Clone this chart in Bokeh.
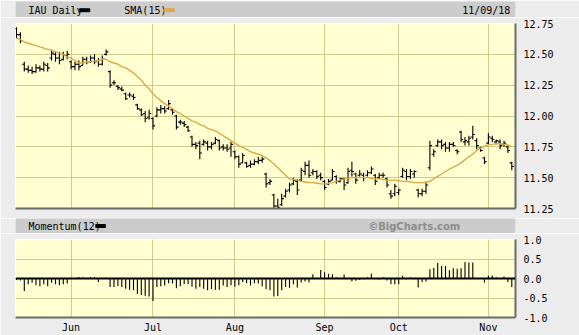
import pandas as pd
from bokeh.plotting import figure
from bokeh.layouts import column
from bokeh.models import Range1d, FixedTicker, PrintfTickFormatter, Span
from bokeh.embed import file_html
from bokeh.resources import INLINE
from bokeh.core.properties import value

# ---------------- data ----------------
holidays = ["2018-05-28", "2018-07-04", "2018-09-03"]
dates = [d for d in pd.bdate_range("2018-05-11", "2018-11-09") if d.strftime("%Y-%m-%d") not in holidays]

opens = [12.71, 12.66, 12.42, 12.38, 12.37, 12.36, 12.39, 12.38, 12.41, 12.47, 12.50, 12.47, 12.46, 12.49,
         12.44, 12.40, 12.42, 12.41, 12.46, 12.44, 12.47, 12.45, 12.42, 12.50, 12.36, 12.27, 12.24, 12.22,
         12.18, 12.17, 12.16, 12.09, 12.05, 12.02, 11.99, 11.98, 12.00, 12.05, 12.06, 12.06, 12.05, 12.00,
         11.95, 11.94, 11.91, 11.83, 11.77, 11.78, 11.77, 11.78, 11.75, 11.78, 11.80, 11.75, 11.74, 11.74,
         11.71, 11.67, 11.62, 11.62, 11.60, 11.61, 11.63, 11.64, 11.53, 11.46, 11.36, 11.27, 11.28, 11.35,
         11.40, 11.45, 11.47, 11.48, 11.55, 11.60, 11.54, 11.55, 11.52, 11.47, 11.45, 11.48, 11.51, 11.47,
         11.49, 11.46, 11.56, 11.53, 11.52, 11.52, 11.52, 11.54, 11.52, 11.50, 11.52, 11.49, 11.37, 11.37,
         11.38, 11.51, 11.55, 11.51, 11.53, 11.40, 11.37, 11.39, 11.58, 11.69, 11.76, 11.79, 11.77, 11.74,
         11.77, 11.72, 11.87, 11.79, 11.79, 11.83, 11.80, 11.74, 11.66, 11.78, 11.82, 11.79, 11.79, 11.77,
         11.75, 11.62]
highs = [12.72, 12.68, 12.44, 12.41, 12.40, 12.42, 12.41, 12.44, 12.43, 12.53, 12.52, 12.52, 12.52, 12.53,
         12.45, 12.44, 12.45, 12.48, 12.48, 12.49, 12.50, 12.47, 12.49, 12.54, 12.37, 12.29, 12.25, 12.24,
         12.19, 12.19, 12.18, 12.10, 12.06, 12.04, 12.05, 11.99, 12.07, 12.09, 12.08, 12.13, 12.06, 12.01,
         11.97, 11.96, 11.92, 11.84, 11.79, 11.80, 11.81, 11.80, 11.79, 11.83, 11.81, 11.77, 11.77, 11.79,
         11.72, 11.68, 11.70, 11.63, 11.64, 11.65, 11.67, 11.67, 11.54, 11.49, 11.37, 11.33, 11.37, 11.41,
         11.46, 11.50, 11.49, 11.58, 11.63, 11.64, 11.57, 11.56, 11.54, 11.48, 11.49, 11.57, 11.52, 11.50,
         11.50, 11.58, 11.63, 11.54, 11.56, 11.54, 11.56, 11.59, 11.53, 11.54, 11.54, 11.50, 11.40, 11.45,
         11.41, 11.58, 11.57, 11.57, 11.56, 11.41, 11.41, 11.46, 11.80, 11.73, 11.81, 11.81, 11.79, 11.79,
         11.79, 11.73, 11.88, 11.83, 11.84, 11.92, 11.82, 11.75, 11.67, 11.86, 11.84, 11.81, 11.81, 11.80,
         11.76, 11.63]
lows = [12.63, 12.59, 12.36, 12.35, 12.34, 12.35, 12.36, 12.36, 12.36, 12.45, 12.44, 12.42, 12.45, 12.46,
        12.38, 12.37, 12.37, 12.41, 12.42, 12.43, 12.42, 12.40, 12.41, 12.49, 12.23, 12.25, 12.21, 12.20,
        12.13, 12.15, 12.13, 12.05, 12.00, 11.95, 11.97, 11.89, 11.99, 12.02, 12.02, 12.05, 12.01, 11.89,
        11.93, 11.91, 11.87, 11.75, 11.73, 11.65, 11.76, 11.72, 11.73, 11.77, 11.72, 11.72, 11.71, 11.67,
        11.65, 11.58, 11.62, 11.58, 11.58, 11.60, 11.61, 11.62, 11.42, 11.44, 11.25, 11.25, 11.27, 11.34,
        11.38, 11.44, 11.36, 11.47, 11.52, 11.50, 11.52, 11.49, 11.48, 11.40, 11.44, 11.48, 11.45, 11.46,
        11.40, 11.45, 11.51, 11.45, 11.51, 11.47, 11.51, 11.53, 11.44, 11.49, 11.50, 11.42, 11.33, 11.35,
        11.36, 11.50, 11.48, 11.49, 11.50, 11.34, 11.35, 11.37, 11.56, 11.67, 11.75, 11.73, 11.71, 11.71,
        11.75, 11.69, 11.79, 11.76, 11.76, 11.81, 11.73, 11.71, 11.61, 11.77, 11.79, 11.77, 11.73, 11.75,
        11.70, 11.56]
closes = [12.66, 12.61, 12.38, 12.37, 12.36, 12.39, 12.38, 12.42, 12.39, 12.51, 12.47, 12.45, 12.49, 12.50,
          12.40, 12.42, 12.40, 12.46, 12.44, 12.47, 12.44, 12.42, 12.46, 12.52, 12.25, 12.27, 12.23, 12.21,
          12.14, 12.17, 12.15, 12.06, 12.01, 11.98, 12.02, 11.92, 12.05, 12.06, 12.04, 12.10, 12.03, 11.91,
          11.95, 11.93, 11.88, 11.77, 11.76, 11.70, 11.79, 11.75, 11.77, 11.81, 11.74, 11.74, 11.73, 11.77,
          11.67, 11.61, 11.68, 11.59, 11.61, 11.63, 11.64, 11.65, 11.45, 11.47, 11.27, 11.26, 11.33, 11.39,
          11.44, 11.48, 11.40, 11.56, 11.60, 11.52, 11.55, 11.51, 11.50, 11.42, 11.47, 11.55, 11.47, 11.49,
          11.44, 11.55, 11.55, 11.48, 11.53, 11.50, 11.54, 11.57, 11.47, 11.52, 11.52, 11.44, 11.35, 11.43,
          11.40, 11.56, 11.51, 11.55, 11.55, 11.37, 11.39, 11.44, 11.76, 11.71, 11.79, 11.76, 11.74, 11.77,
          11.76, 11.71, 11.81, 11.80, 11.82, 11.85, 11.76, 11.72, 11.63, 11.83, 11.81, 11.80, 11.76, 11.78,
          11.72, 11.59]
sma15 = [12.63, 12.62, 12.60, 12.59, 12.58, 12.57, 12.56, 12.55, 12.54, 12.535, 12.52, 12.51, 12.50, 12.48,
         12.47, 12.45, 12.43, 12.43, 12.44, 12.44, 12.445, 12.45, 12.46, 12.46, 12.44, 12.43, 12.42, 12.40,
         12.39, 12.37, 12.35, 12.32, 12.29, 12.25, 12.22, 12.18, 12.15, 12.125, 12.10, 12.08, 12.06, 12.035,
         12.02, 12.00, 11.98, 11.96, 11.95, 11.93, 11.92, 11.90, 11.89, 11.88, 11.86, 11.84, 11.82, 11.80,
         11.78, 11.76, 11.745, 11.73, 11.71, 11.70, 11.69, 11.68, 11.66, 11.64, 11.61, 11.58, 11.55, 11.52,
         11.49, 11.485, 11.48, 11.47, 11.465, 11.46, 11.46, 11.455, 11.45, 11.45, 11.455, 11.46, 11.47, 11.48,
         11.49, 11.495, 11.50, 11.50, 11.50, 11.50, 11.50, 11.495, 11.49, 11.49, 11.485, 11.48, 11.48, 11.48,
         11.475, 11.47, 11.47, 11.465, 11.46, 11.46, 11.46, 11.465, 11.47, 11.49, 11.51, 11.53, 11.55, 11.57,
         11.585, 11.60, 11.62, 11.645, 11.67, 11.69, 11.72, 11.74, 11.755, 11.765, 11.77, 11.775, 11.775, 11.77,
         11.765, 11.75]
momentum12 = [-0.04, -0.05, -0.32, -0.15, -0.11, -0.17, -0.20, -0.15, -0.20, -0.11, -0.15, -0.17, -0.15, -0.13,
              0.01, 0.00, 0.04, 0.03, 0.01, 0.04, 0.04, -0.09, -0.01, 0.02, -0.22, -0.22, -0.19, -0.22,
              -0.26, -0.29, -0.30, -0.40, -0.42, -0.44, -0.46, -0.58, -0.22, -0.20, -0.18, -0.12, -0.13, -0.25,
              -0.20, -0.14, -0.15, -0.21, -0.26, -0.22, -0.26, -0.30, -0.27, -0.29, -0.29, -0.18, -0.22, -0.17,
              -0.21, -0.17, -0.09, -0.12, -0.18, -0.12, -0.13, -0.20, -0.27, -0.30, -0.46, -0.45, -0.30, -0.22,
              -0.24, -0.15, -0.23, -0.10, -0.08, -0.10, 0.11, 0.02, 0.22, 0.16, 0.12, 0.11, 0.03, 0.01,
              0.10, -0.01, -0.07, -0.06, -0.04, -0.02, 0.03, 0.12, 0.00, -0.03, 0.03, -0.05, -0.15, -0.15,
              -0.15, 0.07, -0.02, 0.03, 0.01, -0.23, -0.09, -0.08, 0.24, 0.27, 0.40, 0.32, 0.32, 0.21,
              0.26, 0.25, 0.26, 0.42, 0.41, 0.41, 0.01, 0.01, -0.10, 0.07, 0.08, 0.03, 0.00, 0.05,
              -0.09, -0.22]
price_ticks = [11.25, 11.50, 11.75, 12.00, 12.25, 12.50, 12.75]
mom_ticks = [-1.0, -0.5, 0.0, 0.5, 1.0]

# ---------------- derived positions ----------------
n = len(closes)
xs = list(range(n))
month_idx = [i for i in range(1, n) if dates[i].month != dates[i - 1].month]
month_lbl = {i: dates[i].strftime("%b") for i in month_idx}

W = 579
BG = "#ECECEC"
FRAME = "#FFFFD2"
GRID = "#CCCC8E"
HEAD = "#CCCCCC"
EDGE = "#6A6A6A"
SMA_C = "#DDA845"
MONO = value("DejaVu Sans Mono")
FS = value("10px")

xr = Range1d(-0.256, 127.95)


def header(h, y0, y1, top=0):
    f = figure(width=W, height=h, x_range=Range1d(0, W), y_range=Range1d(y1, y0 + top),
               x_axis_location=None, y_axis_location=None, toolbar_location=None,
               output_backend="svg", min_border_left=0, min_border_right=0,
               min_border_top=top, min_border_bottom=0)
    f.grid.visible = False
    f.outline_line_color = None
    f.background_fill_color = HEAD
    f.border_fill_color = BG
    return f


# top header
h1 = header(17, 0, 17, top=1)
h1.text(x=[15], y=[9.8], text=["IAU Daily"], text_font=MONO, text_font_size=FS,
        text_baseline="middle", text_align="left", text_color="black")
h1.quad(left=[74], right=[86], top=[8.3], bottom=[11.2], color="black")
h1.text(x=[126], y=[9.8], text=["SMA(15)"], text_font=MONO, text_font_size=FS,
        text_baseline="middle", text_align="left", text_color="black")
h1.quad(left=[172], right=[184], top=[8.3], bottom=[11.2], color=SMA_C)
h1.text(x=[573], y=[9.8], text=[dates[-1].strftime("%m/%d/%y")], text_font=MONO, text_font_size=FS,
        text_baseline="middle", text_align="right", text_color="black")

# price panel
p = figure(width=W, height=201, x_range=xr, y_range=Range1d(11.25, 12.75),
           y_axis_location="right", toolbar_location=None, output_backend="svg",
           min_border_left=15, min_border_right=64, min_border_top=6, min_border_bottom=10)
p.background_fill_color = FRAME
p.border_fill_color = BG
p.outline_line_color = "#FFFFFF"
p.xaxis.ticker = FixedTicker(ticks=[])
p.xaxis.major_label_text_font_size = "0px"
p.xaxis.major_label_standoff = 0
p.xaxis.major_tick_out = 0
p.xaxis.major_tick_in = 0
p.xaxis.minor_tick_line_color = None
p.xaxis.axis_line_color = EDGE
p.xaxis.axis_line_width = 2
p.yaxis.ticker = FixedTicker(ticks=price_ticks)
p.yaxis.formatter = PrintfTickFormatter(format="%.2f")
p.yaxis.major_label_text_font = "DejaVu Sans Mono"
p.yaxis.major_label_text_font_size = "10px"
p.yaxis.major_label_text_color = "black"
p.yaxis.major_tick_out = 0
p.yaxis.major_tick_in = 0
p.yaxis.minor_tick_line_color = None
p.yaxis.axis_line_color = EDGE
p.yaxis.axis_line_width = 2
p.yaxis.major_label_standoff = 8
p.xgrid.ticker = FixedTicker(ticks=month_idx)
p.ygrid.ticker = FixedTicker(ticks=price_ticks)
p.grid.grid_line_color = GRID
p.grid.grid_line_width = 1

p.segment(x0=xs, y0=lows, x1=xs, y1=highs, line_color="black", line_width=1.1)
p.segment(x0=[x - 0.55 for x in xs], y0=opens, x1=xs, y1=opens, line_color="black", line_width=1.1)
p.segment(x0=xs, y0=closes, x1=[x + 0.55 for x in xs], y1=closes, line_color="black", line_width=1.1)
p.line(xs, sma15, line_color=SMA_C, line_width=1.4)

# momentum header
h2 = header(15, 218, 233)
h2.text(x=[15], y=[225.8], text=["Momentum(12)"], text_font=MONO, text_font_size=FS,
        text_baseline="middle", text_align="left", text_color="black")
h2.quad(left=[93], right=[104], top=[224], bottom=[227], color="black")
h2.text(x=[515], y=[225.8], text=["\u00a9BigCharts.com"], text_font=value("DejaVu Sans"),
        text_font_size=value("10px"), text_font_style="bold",
        text_baseline="middle", text_align="right", text_color="#8C8C8C")

# momentum panel
m = figure(width=W, height=102, x_range=xr, y_range=Range1d(-1.0, 1.0),
           y_axis_location="right", toolbar_location=None, output_backend="svg",
           min_border_left=15, min_border_right=64, min_border_top=6, min_border_bottom=18)
m.background_fill_color = FRAME
m.border_fill_color = BG
m.outline_line_color = "#FFFFFF"
m.xaxis.ticker = FixedTicker(ticks=month_idx)
m.xaxis.major_label_overrides = month_lbl
m.xaxis.major_label_text_font = "DejaVu Sans Mono"
m.xaxis.major_label_text_font_size = "10px"
m.xaxis.major_label_text_color = "black"
m.xaxis.major_label_standoff = 4
m.xaxis.major_tick_out = 0
m.xaxis.major_tick_in = 0
m.xaxis.minor_tick_line_color = None
m.xaxis.axis_line_color = EDGE
m.xaxis.axis_line_width = 2
m.yaxis.ticker = FixedTicker(ticks=mom_ticks)
m.yaxis.formatter = PrintfTickFormatter(format="%.1f")
m.yaxis.major_label_text_font = "DejaVu Sans Mono"
m.yaxis.major_label_text_font_size = "10px"
m.yaxis.major_label_text_color = "black"
m.yaxis.major_tick_out = 0
m.yaxis.major_tick_in = 0
m.yaxis.minor_tick_line_color = None
m.yaxis.axis_line_color = EDGE
m.yaxis.axis_line_width = 2
m.yaxis.major_label_standoff = 8
m.xgrid.ticker = FixedTicker(ticks=month_idx)
m.ygrid.ticker = FixedTicker(ticks=mom_ticks)
m.grid.grid_line_color = GRID
m.grid.grid_line_width = 1

m.segment(x0=xs, y0=[0] * n, x1=xs, y1=momentum12, line_color="black", line_width=1.1)
m.add_layout(Span(location=0, dimension="width", line_color="black", line_width=2))

layout = column(h1, p, h2, m, spacing=0)
open("out.html", "w").write(file_html(layout, INLINE))
